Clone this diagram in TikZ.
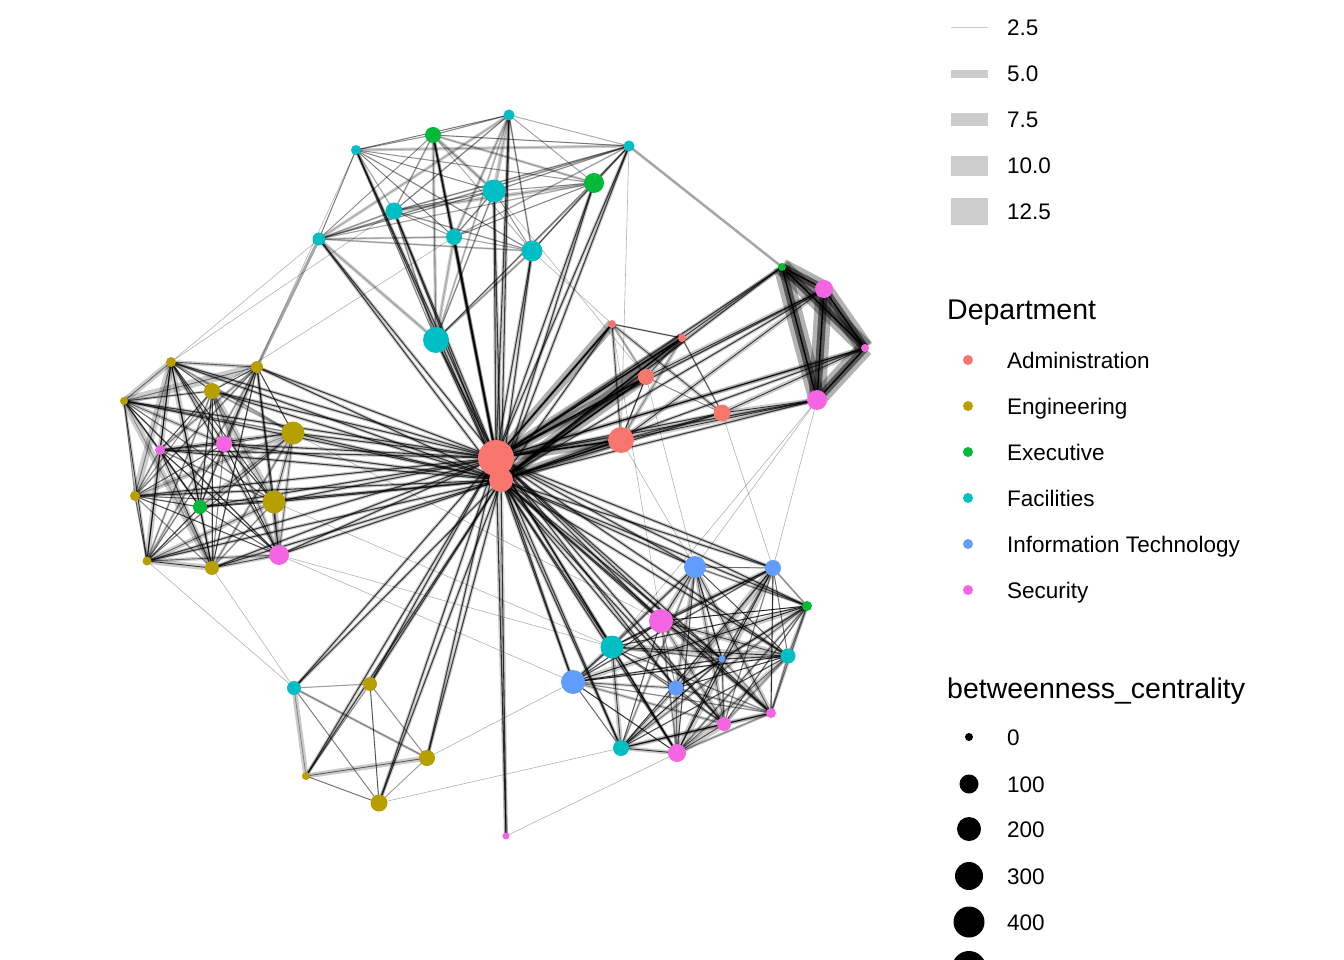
\documentclass[tikz,border=0pt]{standalone}
\usepackage{fontspec}
\setmainfont{Liberation Sans}
\pgfdeclarelayer{bg}
\pgfsetlayers{bg,main}
\definecolor{cAdm}{HTML}{F8766D}
\definecolor{cEng}{HTML}{B79F00}
\definecolor{cExe}{HTML}{00BA38}
\definecolor{cFac}{HTML}{00BFC4}
\definecolor{cIT}{HTML}{619CFF}
\definecolor{cSec}{HTML}{F564E3}
\definecolor{keygrey}{HTML}{CCCCCC}
\newcommand\mycliq[4]{%
\foreach \i in {1,...,#2}{\foreach \j in {1,...,#2}{\ifnum\i<\j
 \pgfmathsetmacro\w{0.8+#3*rnd*rnd}%
 \pgfmathsetmacro\o{#4*(0.35+0.65*rnd)}%
 \draw[halo,line width=\w pt] (#1\i.center)--(#1\j.center);
 \draw[core,opacity=\o] (#1\i.center)--(#1\j.center);
\fi}}}
\begin{document}
\begin{tikzpicture}[x=1pt,y=-1pt,
  nd/.style 2 args={circle,inner sep=0pt,minimum size=#1pt,fill=#2,draw=none},
  halo/.style={draw=black,opacity=0.2,line cap=butt},
  core/.style={draw=black,line width=0.9pt},
  thinedge/.style={draw=black,opacity=0.3,line width=0.6pt},
  lab/.style={anchor=base west,inner sep=0pt,font=\fontsize{22.5}{27}\selectfont},
  ttl/.style={anchor=base west,inner sep=0pt,font=\fontsize{28.5}{34}\selectfont},
  keyline/.style={draw=keygrey,line cap=butt},
  keydot/.style={circle,inner sep=0pt,minimum size=#1pt,fill=black}]
\useasboundingbox (0,0) rectangle (1344,960);
% ---------------- nodes ----------------
% centre
\node[nd={36}{cAdm}] (C1) at (496,458) {};
\node[nd={24}{cAdm}] (C2) at (501,480) {};
% top cluster
\node[nd={11}{cFac}] (T1) at (509,115) {};
\node[nd={16}{cExe}] (T2) at (433,135) {};
\node[nd={10}{cFac}] (T3) at (356,150) {};
\node[nd={11}{cFac}] (T4) at (629,146) {};
\node[nd={20}{cExe}] (T5) at (594,183) {};
\node[nd={23}{cFac}] (T6) at (494,191) {};
\node[nd={17}{cFac}] (T7) at (394,211) {};
\node[nd={16}{cFac}] (T8) at (454,237) {};
\node[nd={21}{cFac}] (T9) at (532,251) {};
\node[nd={13}{cFac}] (T10) at (319,239) {};
\node[nd={26}{cFac}] (T11) at (436,340) {};
% admin
\node[nd={8}{cAdm}] (A1) at (612,324) {};
\node[nd={8}{cAdm}] (A2) at (682,338) {};
\node[nd={16}{cAdm}] (A3) at (646,377) {};
\node[nd={17}{cAdm}] (A4) at (722,413) {};
\node[nd={26}{cAdm}] (A5) at (621,440) {};
% security right
\node[nd={8}{cExe}] (S1) at (782,267) {};
\node[nd={18}{cSec}] (S2) at (824,289) {};
\node[nd={8}{cSec}] (S3) at (865,348) {};
\node[nd={20}{cSec}] (S4) at (817,400) {};
% left cluster
\node[nd={10}{cEng}] (L1) at (171,362) {};
\node[nd={12}{cEng}] (L2) at (257,367) {};
\node[nd={8}{cEng}] (L3) at (124,401) {};
\node[nd={16}{cEng}] (L4) at (212,391) {};
\node[nd={23}{cEng}] (L5) at (293,433) {};
\node[nd={10}{cSec}] (L6) at (160,450) {};
\node[nd={16}{cSec}] (L7) at (224,444) {};
\node[nd={10}{cEng}] (L8) at (135,496) {};
\node[nd={14}{cExe}] (L9) at (200,507) {};
\node[nd={23}{cEng}] (L10) at (274,502) {};
\node[nd={9}{cEng}] (L11) at (147,561) {};
\node[nd={14}{cEng}] (L12) at (212,568) {};
\node[nd={20}{cSec}] (L13) at (279,555) {};
% lower right
\node[nd={22}{cIT}] (R1) at (695,567) {};
\node[nd={16}{cIT}] (R2) at (773,568) {};
\node[nd={10}{cExe}] (R3) at (807,606) {};
\node[nd={24}{cSec}] (R4) at (661,621) {};
\node[nd={23}{cFac}] (R5) at (612,647) {};
\node[nd={7}{cIT}] (R6) at (722,659) {};
\node[nd={15}{cFac}] (R7) at (788,656) {};
\node[nd={24}{cIT}] (R8) at (573,682) {};
\node[nd={15}{cIT}] (R9) at (676,688) {};
\node[nd={14}{cSec}] (R10) at (724,724) {};
\node[nd={10}{cSec}] (R11) at (771,713) {};
\node[nd={16}{cFac}] (R12) at (621,748) {};
\node[nd={18}{cSec}] (R13) at (677,753) {};
% bottom left
\node[nd={14}{cFac}] (B1) at (294,688) {};
\node[nd={14}{cEng}] (B2) at (370,684) {};
\node[nd={16}{cEng}] (B3) at (427,758) {};
\node[nd={8}{cEng}] (B4) at (306,776) {};
\node[nd={17}{cEng}] (B5) at (379,803) {};
\node[nd={7}{cSec}] (P1) at (506,836) {};
% ---------------- edges ----------------
\begin{pgfonlayer}{bg}
\pgfmathsetseed{12}
\mycliq{T}{11}{4}{0.45}
\mycliq{L}{13}{8}{0.8}
\mycliq{R}{13}{8}{0.85}
\mycliq{A}{5}{7}{0.8}
\mycliq{B}{5}{7}{0.6}
% security cluster: heavy bundles
\foreach \a/\b in {S1/S2,S1/S3,S1/S4,S2/S3,S2/S4,S3/S4}{
  \draw[halo,opacity=0.3,line width=17pt,line join=round] (\a.center)--(\b.center);
  \draw[halo,opacity=0.5,line width=8pt] (\a.center)--(\b.center);
  \draw[core,line width=1.4pt] (\a.center)--(\b.center);}
% hub edges
\foreach \h in {C1,C2}{
 \foreach \p/\n in {T/11,L/13,R/13,A/5,B/5,S/4}{
  \foreach \i in {1,...,\n}{
   \draw[halo,line width=3.4pt] (\h.center)--(\p\i.center);
   \draw[core,opacity=0.7,line width=1.1pt] (\h.center)--(\p\i.center);}}
 \draw[halo,line width=4pt] (\h.center)--(P1.center);
 \draw[core,opacity=0.75,line width=1.1pt] (\h.center)--(P1.center);}
\draw[halo,line width=10pt] (C1.center)--(C2.center);
% heavy bundles to admin
\foreach \a/\b in {C1/A2,C1/A3,C2/A5,C1/A5,C2/A2,C2/A3,C1/A1}{
  \draw[halo,opacity=0.3,line width=10pt] (\a.center)--(\b.center);
  \draw[core,opacity=0.85,line width=1.6pt] (\a.center)--(\b.center);}
% admin to security
\foreach \a/\b in {A2/S1,A5/S4,A4/S4,A3/S2,A5/S2,A4/S3,C1/S3}{
  \draw[halo,line width=5pt] (\a.center)--(\b.center);
  \draw[core,opacity=0.75] (\a.center)--(\b.center);}
% inter-cluster
\draw[halo,opacity=0.35,line width=2.5pt] (T4.center)--(S1.center);
\draw[halo,opacity=0.35,line width=3pt] (T10.center)--(L2.center);
\foreach \a/\b in {T7/L1,T8/L4,T10/L3,T3/L2,L12/B1,L11/B1,L13/R8,L13/R5,L10/R5,
  B3/R8,B5/R12,P1/R13,S4/R1,S4/R2,A4/R2,A5/R1,A1/R4,A3/R1,T4/A5,L5/R4,T9/A1,T6/A3,S4/R5}{
  \draw[thinedge] (\a.center)--(\b.center);}
\end{pgfonlayer}
% ---------------- legends ----------------
\foreach \y/\w/\t in {28/1/2.5,74/8/5.0,120/13/7.5,166/20/10.0,212/27/12.5}{
  \draw[keyline,line width=\w pt] (951,\y) -- (988,\y);
  \node[lab] at (1007,\y+8) {\t};}
\node[ttl] (dtitle) at (947,319) {Department};
\foreach \y/\c/\t in {360/cAdm/Administration,406/cEng/Engineering,452/cExe/Executive,
  498/cFac/Facilities,544/cIT/Information Technology,590/cSec/Security}{
  \node[nd={10}{\c}] at (968,\y) {};
  \node[lab] at (1007,\y+8) {\t};}
\node[ttl] (btitle) at (947,698) {betweenness\_centrality};
\foreach \y/\d/\t in {737/8/0,784/19/100,829/24/200,876/28/300,922/31/400}{
  \node[keydot=\d] at (969,\y) {};
  \node[lab] at (1007,\y+8) {\t};}
\node[keydot=34] at (969,968) {};
\end{tikzpicture}
\end{document}
